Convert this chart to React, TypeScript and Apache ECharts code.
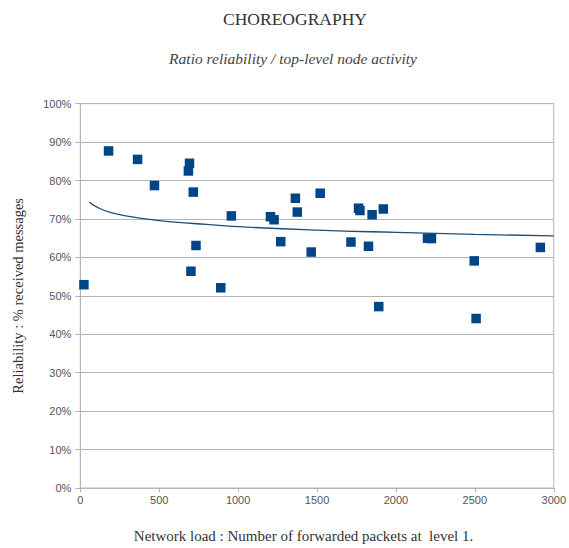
import React, { useEffect, useRef } from "react";
import * as echarts from "echarts";

const titleText = "CHOREOGRAPHY";
const subtitleText = "Ratio reliability / top-level node activity";
const xAxisName = "Network load : Number of forwarded packets at  level 1.";
const yAxisName = "Reliability : % received messages";

// forwarded packets at level 1
const packets = [23, 179, 363, 470, 692, 685, 716, 701, 733, 890, 957, 1205, 1228, 1270, 1363, 1375, 1463, 1520, 1715, 1763, 1772, 1826, 1849, 1891, 1920, 2200, 2225, 2496, 2508, 2915];
// % received messages
const reliability = [52.9, 87.7, 85.5, 78.7, 84.5, 82.5, 77.0, 56.4, 63.1, 52.1, 70.8, 70.6, 69.8, 64.1, 75.4, 71.8, 61.4, 76.7, 64.0, 72.8, 72.2, 62.9, 71.1, 47.2, 72.6, 65.0, 64.9, 59.1, 44.1, 62.6];

// trend line
const trendX = [57, 100, 200, 400, 600, 800, 1000, 1500, 2000, 2500, 3000];
const trendY = [74.4, 73.2, 71.6, 70.1, 69.2, 68.6, 68.0, 67.1, 66.5, 66.0, 65.6];

const xTicks = { min: 0, max: 3000, interval: 500 };
const yTicks = { min: 0, max: 100, interval: 10 };

export default function App() {
  const ref = useRef<HTMLDivElement>(null);
  useEffect(() => {
    if (!ref.current) return;
    const chart = echarts.init(ref.current, null, { renderer: "svg" });
    const gray = "#b3b3b3";
    const labelColor = "#555";
    chart.setOption({
      animation: false,
      backgroundColor: "#fff",
      title: [
        {
          text: titleText,
          left: 290,
          top: 5,
          textAlign: "center",
          textStyle: { fontFamily: "Liberation Serif", fontSize: 17.5, fontWeight: "normal", color: "#333" },
        },
        {
          text: subtitleText,
          left: 288,
          top: 45,
          textAlign: "center",
          textStyle: { fontFamily: "Liberation Serif", fontSize: 15.5, fontStyle: "italic", fontWeight: "normal", color: "#444" },
        },
      ],
      grid: {
        left: 80.3,
        right: 12.3,
        top: 103.7,
        bottom: 55.3,
        show: true,
        borderColor: gray,
        borderWidth: 1,
        containLabel: false,
      },
      xAxis: {
        type: "value",
        min: xTicks.min,
        max: xTicks.max,
        interval: xTicks.interval,
        name: xAxisName,
        nameLocation: "middle",
        nameGap: 40,
        nameTextStyle: { fontFamily: "Liberation Serif", fontSize: 15, color: "#333", padding: [0, 27, 0, 0] },
        axisLine: { show: true, lineStyle: { color: gray } },
        axisTick: { show: true, length: 4, lineStyle: { color: gray } },
        axisLabel: { margin: 6, fontFamily: "Liberation Sans", fontSize: 11, color: labelColor, formatter: (v: number) => String(v) },
        splitLine: { show: false },
      },
      yAxis: {
        type: "value",
        min: yTicks.min,
        max: yTicks.max,
        interval: yTicks.interval,
        name: yAxisName,
        nameLocation: "middle",
        nameGap: 55,
        nameTextStyle: { fontFamily: "Liberation Serif", fontSize: 14.5, color: "#333" },
        axisLine: { show: true, lineStyle: { color: gray } },
        axisTick: { show: true, length: 5, lineStyle: { color: gray } },
        axisLabel: { margin: 9, fontFamily: "Liberation Sans", fontSize: 11, color: labelColor, formatter: "{value}%" },
        splitLine: { show: true, lineStyle: { color: gray } },
      },
      series: [
        {
          type: "line",
          data: trendX.map((x, i) => [x, trendY[i]]),
          smooth: true,
          showSymbol: false,
          symbol: "none",
          lineStyle: { color: "#1f4e79", width: 1.3 },
          z: 2,
        },
        {
          type: "scatter",
          data: packets.map((x, i) => [x, reliability[i]]),
          symbol: "rect",
          symbolSize: 9.5,
          itemStyle: { color: "#004586", opacity: 1 },
          z: 3,
        },
      ],
    });
    return () => chart.dispose();
  }, []);
  return <div ref={ref} style={{ position: "fixed", left: 0, top: 0, width: 569, height: 548 }} />;
}
